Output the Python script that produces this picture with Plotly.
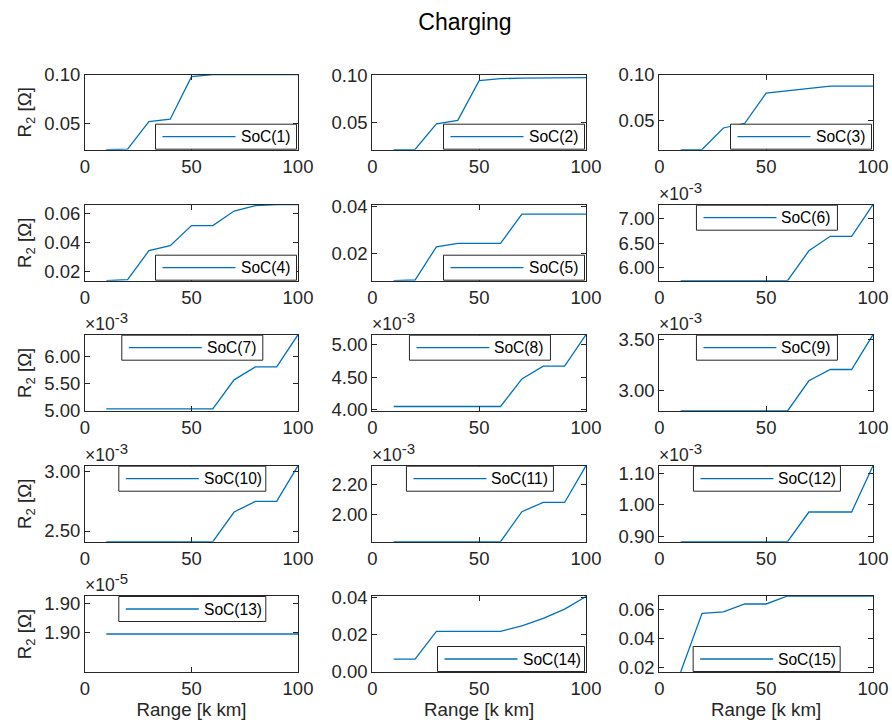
import plotly.graph_objects as go

# ---------------- data ----------------
range_k_km = [10, 20, 30, 40, 50, 60, 70, 80, 90, 100]

series_names = ["SoC(1)", "SoC(2)", "SoC(3)", "SoC(4)", "SoC(5)",
                "SoC(6)", "SoC(7)", "SoC(8)", "SoC(9)", "SoC(10)",
                "SoC(11)", "SoC(12)", "SoC(13)", "SoC(14)", "SoC(15)"]

# values in displayed units (multiply by 10**exponent for Ohm)
r2_soc1 = [0.0228, 0.0234, 0.0517, 0.0542, 0.0980, 0.1000, 0.1000, 0.1000, 0.1000, 0.1000]
r2_soc2 = [0.0213, 0.0216, 0.0488, 0.0524, 0.0947, 0.0968, 0.0973, 0.0976, 0.0978, 0.0979]
r2_soc3 = [0.0188, 0.0190, 0.0424, 0.0475, 0.0804, 0.0830, 0.0855, 0.0878, 0.0878, 0.0878]
r2_soc4 = [0.0133, 0.0140, 0.0341, 0.0376, 0.0515, 0.0515, 0.0616, 0.0653, 0.0660, 0.0660]
r2_soc5 = [0.0087, 0.0090, 0.0230, 0.0245, 0.0245, 0.0245, 0.0368, 0.0368, 0.0368, 0.0368]
r2_soc6 = [5.72, 5.72, 5.72, 5.72, 5.72, 5.72, 6.34, 6.64, 6.64, 7.295]
r2_soc7 = [5.03, 5.03, 5.03, 5.03, 5.03, 5.03, 5.57, 5.81, 5.81, 6.41]
r2_soc8 = [4.04, 4.04, 4.04, 4.04, 4.04, 4.04, 4.47, 4.67, 4.67, 5.16]
r2_soc9 = [2.80, 2.80, 2.80, 2.80, 2.80, 2.80, 3.095, 3.205, 3.205, 3.545]
r2_soc10 = [2.41, 2.41, 2.41, 2.41, 2.41, 2.41, 2.66, 2.75, 2.75, 3.05]
r2_soc11 = [1.824, 1.824, 1.824, 1.824, 1.824, 1.824, 2.02, 2.08, 2.08, 2.32]
r2_soc12 = [0.885, 0.885, 0.885, 0.885, 0.885, 0.885, 0.978, 0.978, 0.978, 1.123]
r2_soc13 = [1.903, 1.903, 1.903, 1.903, 1.903, 1.903, 1.903, 1.903, 1.903, 1.903]
r2_soc14 = [0.0065, 0.0065, 0.0215, 0.0215, 0.0215, 0.0215, 0.0245, 0.0285, 0.0335, 0.0403]
r2_soc15 = [0.0166, 0.0570, 0.0580, 0.0635, 0.0635, 0.0690, 0.0690, 0.0690, 0.0690, 0.0690]

y_exponents = [0, 0, 0, 0, 0, -3, -3, -3, -3, -3, -3, -3, -5, 0, 0]

y_ranges = [[0.0228, 0.1000], [0.0213, 0.1010], [0.0188, 0.1003],
            [0.0133, 0.0660], [0.0087, 0.0408], [5.72, 7.295],
            [4.99, 6.41], [3.97, 5.16], [2.80, 3.545],
            [2.41, 3.05], [1.824, 2.32], [0.885, 1.123],
            [1.902, 1.904], [-0.0005, 0.0406], [0.0166, 0.0690]]

y_tickvals = [[0.05, 0.10], [0.05, 0.10], [0.05, 0.10],
              [0.02, 0.04, 0.06], [0.02, 0.04], [6.0, 6.5, 7.0],
              [5.0, 5.5, 6.0], [4.0, 4.5, 5.0], [3.0, 3.5],
              [2.5, 3.0], [2.0, 2.2], [0.9, 1.0, 1.1],
              [1.90305, 1.90379], [0.0, 0.02, 0.04], [0.02, 0.04, 0.06]]

x_tickvals = [0, 50, 100]
x_range = [0, 100]

title_text = "Charging"
x_label = "Range [k km]"
y_label = "R<sub>2</sub> [Ω]"

# ---------------- styling / layout ----------------
W, H = 892, 722
FONT = "Arial, 'Liberation Sans', Helvetica, sans-serif"
AX_COLOR = "#262626"
LINE_COLOR = "#0072BD"
TICK_SIZE = 18.5
LABEL_SIZE = 18.7
LEG_SIZE = 15.6
TITLE_SIZE = 23

col_px = [(85, 298), (372.3, 586), (659.3, 873)]
row_px = [(74.7, 149.7), (204.7, 280.7), (334.7, 411), (465.7, 541.7), (596, 672)]
legend_locs = ["se", "se", "se", "se", "se", "n", "n", "n", "n", "n",
               "n", "n", "n", "se", "s"]

r2_series = [r2_soc1, r2_soc2, r2_soc3, r2_soc4, r2_soc5, r2_soc6, r2_soc7,
             r2_soc8, r2_soc9, r2_soc10, r2_soc11, r2_soc12, r2_soc13,
             r2_soc14, r2_soc15]

fig = go.Figure()
layout = dict(
    width=W, height=H,
    margin=dict(l=0, r=0, t=0, b=0, pad=0, autoexpand=False),
    paper_bgcolor="white", plot_bgcolor="white",
    font=dict(family=FONT, color=AX_COLOR),
    showlegend=False,
    title=dict(text=title_text, x=465 / W, xanchor="center", xref="paper",
               y=1 - 22 / H, yanchor="middle", yref="paper", automargin=False,
               font=dict(size=TITLE_SIZE, family=FONT, color="black")),
)
shapes = []
annotations = []


def px_x(v):
    return v / W


def px_y(v):
    return 1 - v / H


for i, ys in enumerate(r2_series):
    n = i + 1
    r, c = divmod(i, 3)
    x0, x1 = col_px[c]
    y0, y1 = row_px[r]
    xa = "xaxis" if n == 1 else f"xaxis{n}"
    ya = "yaxis" if n == 1 else f"yaxis{n}"
    xr = "x" if n == 1 else f"x{n}"
    yr = "y" if n == 1 else f"y{n}"

    fig.add_trace(go.Scatter(x=range_k_km, y=ys, xaxis=xr, yaxis=yr,
                             mode="lines", name=series_names[i],
                             line=dict(color=LINE_COLOR, width=1.3),
                             showlegend=False, hoverinfo="skip"))

    common = dict(showline=True, linecolor=AX_COLOR, linewidth=1, mirror="ticks",
                  ticks="inside", ticklen=5, tickwidth=1, tickcolor=AX_COLOR,
                  showgrid=False, zeroline=False, automargin=False,
                  tickfont=dict(size=TICK_SIZE, family=FONT, color=AX_COLOR))
    xdict = dict(common, domain=[px_x(x0), px_x(x1)], anchor=yr,
                 range=x_range, tickmode="array", tickvals=x_tickvals)
    if r == 4:
        xdict["title"] = dict(text=x_label, standoff=2,
                              font=dict(size=LABEL_SIZE, family=FONT, color=AX_COLOR))
    ydict = dict(common, domain=[px_y(y1), px_y(y0)], anchor=xr,
                 range=y_ranges[i], tickmode="array", tickvals=y_tickvals[i],
                 tickformat=".2f")
    if c == 0:
        ydict["title"] = dict(text=y_label, standoff=7,
                              font=dict(size=LABEL_SIZE, family=FONT, color=AX_COLOR))
    layout[xa] = xdict
    layout[ya] = ydict

    if y_exponents[i] != 0:
        annotations.append(dict(
            text=f"×10<sup><span style='font-size:15px'>{y_exponents[i]}</span></sup>",
            xref=f"{xr} domain", yref=f"{yr} domain",
            x=0, y=1, xanchor="left", yanchor="bottom",
            showarrow=False, yshift=-1, xshift=-2,
            font=dict(size=17.5, family=FONT, color=AX_COLOR)))

    # legend box (MATLAB style)
    lw = 141 if len(series_names[i]) <= 6 else 147
    lh = 25
    loc = legend_locs[i]
    if loc == "se":
        lx1 = x1 - 1.5
        lx0 = lx1 - lw
        ly1 = y1 - 0.5
        ly0 = ly1 - lh
    elif loc == "n":
        cx = (x0 + x1) / 2 + 0.8
        lx0 = cx - lw / 2
        lx1 = cx + lw / 2
        ly0 = y0 + 0.5
        ly1 = ly0 + lh
    else:  # "s"
        cx = (x0 + x1) / 2 + 0.5
        lx0 = cx - lw / 2
        lx1 = cx + lw / 2
        ly1 = y1 - 0.5
        ly0 = ly1 - lh
    shapes.append(dict(type="rect", xref="paper", yref="paper",
                       x0=px_x(lx0), x1=px_x(lx1), y0=px_y(ly1), y1=px_y(ly0),
                       fillcolor="white", line=dict(color=AX_COLOR, width=1)))
    ym = (ly0 + ly1) / 2
    shapes.append(dict(type="line", xref="paper", yref="paper",
                       x0=px_x(lx0 + 7), x1=px_x(lx0 + 80), y0=px_y(ym), y1=px_y(ym),
                       line=dict(color=LINE_COLOR, width=1.3)))
    annotations.append(dict(text=series_names[i], xref="paper", yref="paper",
                            x=px_x(lx0 + 83), y=px_y(ym), xanchor="left",
                            yanchor="middle", showarrow=False,
                            font=dict(size=LEG_SIZE, family=FONT, color="black")))

layout["shapes"] = shapes
layout["annotations"] = annotations
fig.update_layout(**layout)
fig.write_html("out.html",
               config={"displayModeBar": False, "staticPlot": True},
               post_script="document.body.style.margin='0px';"
                           "document.body.style.overflow='hidden';")
